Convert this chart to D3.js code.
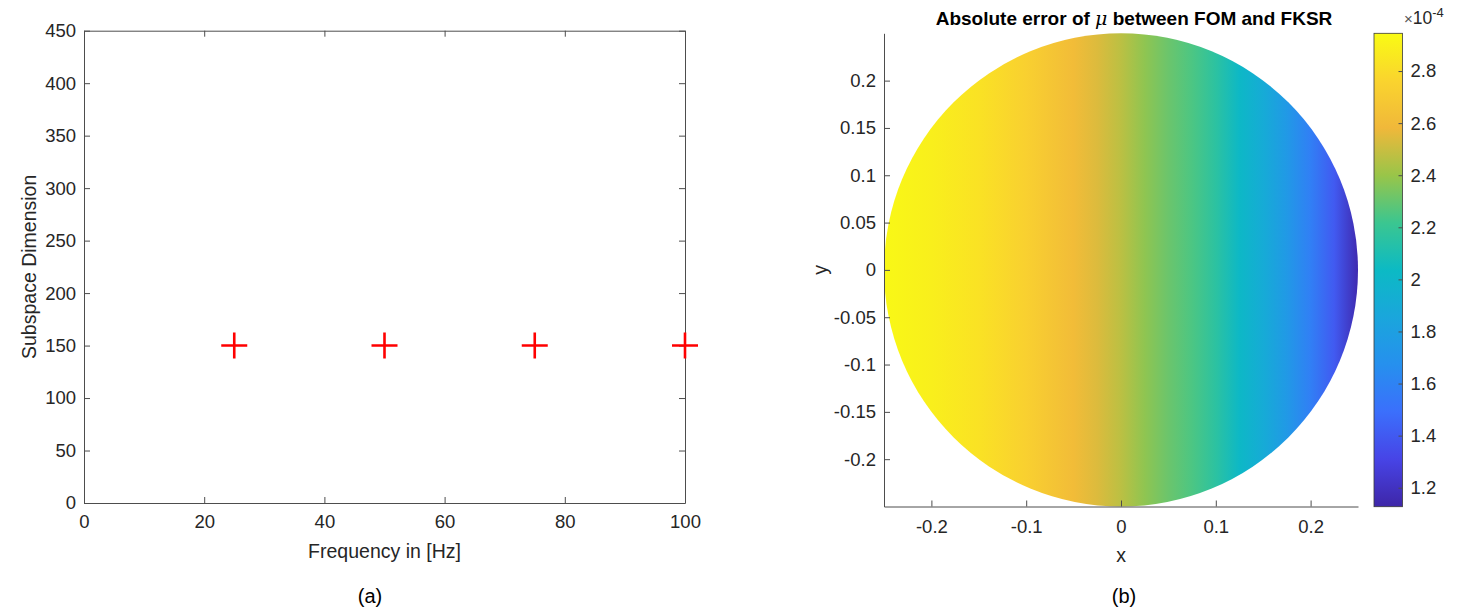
<!DOCTYPE html>
<html>
  <head>
    <meta charset="utf-8" />
    <script src="https://d3js.org/d3.v7.min.js"></script>
    <style>
      body { margin: 0; background: #fff; }
      text { font-family: "Liberation Sans", Arial, Helvetica, sans-serif; }
      .tick text { fill: #262626; }
    </style>
  </head>
  <body>
    <div id="master"></div>

    <script type="text/javascript">
// ---- data (a): subspace dimension per frequency
var freqs = [25, 50, 75, 100];
var dims = [150, 150, 150, 150];
var xTicksA = [0, 20, 40, 60, 80, 100];
var yTicksA = [0, 50, 100, 150, 200, 250, 300, 350, 400, 450];

// ---- data (b): abs. error of mu (x1e-4) along x
var errX = [-0.25, -0.2, -0.15, -0.1, -0.075, -0.05, -0.025, 0, 0.025, 0.05, 0.075, 0.1, 0.125, 0.15, 0.175, 0.2, 0.225, 0.25];
var errVal = [2.93, 2.89, 2.83, 2.74, 2.67, 2.61, 2.54, 2.47, 2.38, 2.31, 2.25, 2.16, 2.02, 1.90, 1.75, 1.58, 1.40, 1.15];
var xyTicksB = [-0.2, -0.15, -0.1, -0.05, 0, 0.05, 0.1, 0.15, 0.2];
var xTicksB = [-0.2, -0.1, 0, 0.1, 0.2];
var cbTicks = [1.2, 1.4, 1.6, 1.8, 2, 2.2, 2.4, 2.6, 2.8];
var cLim = [1.127, 2.945];

// parula-like colormap stops
var cmapT = [0, 0.1, 0.2, 0.3, 0.4, 0.5, 0.6, 0.7, 0.8, 0.9, 1];
var cmapC = ['#3e26a8', '#4744e6', '#3b6ffc', '#2690ee', '#1aa6dc', '#0cbac4', '#3bc690', '#99c549', '#f0b83a', '#fad42e', '#f9fb14'];

var width = 1458, height = 610;
var svg = d3.select("#master").append("svg")
  .attr("width", width)
  .attr("height", height);

var axisCol = "#4d4d4d";
var tickFont = "18.5px";
var labFont = "19.5px";

function styleAxis(g) {
  g.select(".domain").attr("stroke", axisCol);
  g.selectAll(".tick line").attr("stroke", axisCol);
  g.selectAll(".tick text").style("font-size", tickFont);
}

// ================= (a) =================
var xA = d3.scaleLinear().domain([0, 100]).range([84, 685]);
var yA = d3.scaleLinear().domain([0, 450]).range([503, 30.7]);

svg.append("g")
  .attr("transform", "translate(0," + yA(0) + ")")
  .call(d3.axisBottom(xA).tickValues(xTicksA).tickSize(-6).tickSizeOuter(0).tickPadding(12))
  .call(styleAxis);
svg.append("g")
  .attr("transform", "translate(0," + yA(450) + ")")
  .call(d3.axisTop(xA).tickValues(xTicksA).tickSize(-6).tickSizeOuter(0).tickFormat(""))
  .call(styleAxis);
svg.append("g")
  .attr("transform", "translate(" + xA(0) + ",0)")
  .call(d3.axisLeft(yA).tickValues(yTicksA).tickSize(-6).tickSizeOuter(0).tickPadding(8))
  .call(styleAxis);
svg.append("g")
  .attr("transform", "translate(" + xA(100) + ",0)")
  .call(d3.axisRight(yA).tickValues(yTicksA).tickSize(-6).tickSizeOuter(0).tickFormat(""))
  .call(styleAxis);

svg.append("text")
  .attr("x", (xA(0) + xA(100)) / 2).attr("y", 558)
  .attr("text-anchor", "middle").style("font-size", labFont).attr("fill", "#262626")
  .text("Frequency in [Hz]");
svg.append("text")
  .attr("transform", "translate(36," + (yA(0) + yA(450)) / 2 + ") rotate(-90)")
  .attr("text-anchor", "middle").style("font-size", labFont).attr("fill", "#262626")
  .text("Subspace Dimension");

var pts = freqs.map(function(f, i) { return [f, dims[i]]; });
var half = 13;
svg.selectAll(".cross")
  .data(pts)
  .enter()
  .append("path")
    .attr("class", "cross")
    .attr("d", function(d) {
      var cx = xA(d[0]), cy = yA(d[1]);
      return "M" + (cx - half) + "," + cy + "H" + (cx + half) + "M" + cx + "," + (cy - half) + "V" + (cy + half);
    })
    .attr("stroke", "#ff0000")
    .attr("stroke-width", 2.6)
    .attr("fill", "none");

svg.append("text")
  .attr("x", 370).attr("y", 603)
  .attr("text-anchor", "middle").style("font-size", "20px").attr("fill", "#000")
  .text("(a)");

// ================= (b) =================
var xB = d3.scaleLinear().domain([-0.25, 0.25]).range([884, 1358]);
var yB = d3.scaleLinear().domain([-0.25, 0.25]).range([506.5, 33.3]);
var fmt = function(d) { return String(+d.toFixed(2)); };

var tOf = d3.scaleLinear().domain(cLim).range([0, 1]);
var cmap = d3.scaleLinear().domain(cmapT).range(cmapC).interpolate(d3.interpolateRgb).clamp(true);
var colorOf = function(v) { return cmap(tOf(v)); };

var defs = svg.append("defs");
var grad = defs.append("linearGradient")
  .attr("id", "errGrad")
  .attr("gradientUnits", "userSpaceOnUse")
  .attr("x1", xB(-0.25)).attr("x2", xB(0.25))
  .attr("y1", 0).attr("y2", 0);
grad.selectAll("stop")
  .data(errX)
  .enter()
  .append("stop")
    .attr("offset", function(d) { return (xB(d) - xB(-0.25)) / (xB(0.25) - xB(-0.25)); })
    .attr("stop-color", function(d, i) { return colorOf(errVal[i]); });

svg.append("ellipse")
  .attr("cx", xB(0)).attr("cy", yB(0))
  .attr("rx", xB(0.25) - xB(0))
  .attr("ry", yB(-0.25) - yB(0))
  .attr("fill", "url(#errGrad)");

svg.append("g")
  .attr("transform", "translate(0," + yB(-0.25) + ")")
  .call(d3.axisBottom(xB).tickValues(xTicksB).tickFormat(fmt).tickSize(-6).tickSizeOuter(0).tickPadding(13))
  .call(styleAxis);
svg.append("g")
  .attr("transform", "translate(" + xB(-0.25) + ",0)")
  .call(d3.axisLeft(yB).tickValues(xyTicksB).tickFormat(fmt).tickSize(-6).tickSizeOuter(0).tickPadding(8))
  .call(styleAxis);

svg.append("text")
  .attr("x", xB(0)).attr("y", 562)
  .attr("text-anchor", "middle").style("font-size", labFont).attr("fill", "#262626")
  .text("x");
svg.append("text")
  .attr("transform", "translate(827," + yB(0) + ") rotate(-90)")
  .attr("text-anchor", "middle").style("font-size", labFont).attr("fill", "#262626")
  .text("y");

var title = svg.append("text")
  .attr("x", 1134).attr("y", 25)
  .attr("text-anchor", "middle")
  .style("font-size", "19px").style("font-weight", "bold").attr("fill", "#000");
title.append("tspan").text("Absolute error of ");
title.append("tspan").style("font-weight", "normal").style("font-style", "italic")
  .style("font-family", "'DejaVu Serif', serif").text("\u03bc");
title.append("tspan").text(" between FOM and FKSR");

svg.append("text")
  .attr("x", 1124).attr("y", 603)
  .attr("text-anchor", "middle").style("font-size", "20px").attr("fill", "#000")
  .text("(b)");

// colorbar
var cbX = 1374, cbW = 28.5;
var yCb = d3.scaleLinear().domain(cLim).range([506.7, 33.3]);
var cbGrad = defs.append("linearGradient")
  .attr("id", "cbGrad")
  .attr("x1", 0).attr("x2", 0).attr("y1", 1).attr("y2", 0);
cbGrad.selectAll("stop")
  .data(cmapT)
  .enter()
  .append("stop")
    .attr("offset", function(d) { return d; })
    .attr("stop-color", function(d, i) { return cmapC[i]; });

svg.append("rect")
  .attr("x", cbX).attr("y", yCb(cLim[1]))
  .attr("width", cbW).attr("height", yCb(cLim[0]) - yCb(cLim[1]))
  .attr("fill", "url(#cbGrad)")
  .attr("stroke", "#3a3a3a").attr("stroke-width", 0.8);

svg.append("g")
  .attr("transform", "translate(" + (cbX + cbW) + ",0)")
  .call(d3.axisRight(yCb).tickValues(cbTicks).tickFormat(function(d) { return String(+d.toFixed(1)); })
    .tickSize(-4).tickSizeOuter(0).tickPadding(8))
  .call(styleAxis)
  .call(function(g) { g.select(".domain").remove(); });

var expo = svg.append("text")
  .attr("x", 1404).attr("y", 24)
  .style("font-size", "17.5px").attr("fill", "#262626");
expo.append("tspan").style("font-size", "15px").attr("fill", "#555").text("\u00d7");
expo.append("tspan").text("10");
expo.append("tspan").attr("dy", -7).style("font-size", "13px").text("-4");
    </script>
  </body>
</html>
